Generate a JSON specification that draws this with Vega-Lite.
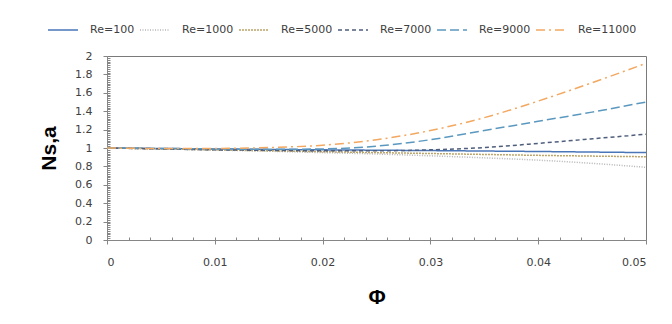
{
  "$schema": "https://vega.github.io/schema/vega-lite/v6.json",
  "width": 539,
  "height": 184,
  "autosize": "none",
  "padding": {"left": 107, "top": 56, "right": 26, "bottom": 84},
  "background": "white",
  "config": {
    "view": {"stroke": "#7a7a7a", "strokeWidth": 1},
    "font": "DejaVu Sans",
    "axis": {
      "labelFont": "DejaVu Sans",
      "labelFontSize": 11,
      "labelColor": "#404040",
      "domainColor": "#868686",
      "tickColor": "#868686",
      "grid": false,
      "titleFont": "Liberation Sans",
      "titleFontWeight": "bold",
      "titleFontSize": 21,
      "titleColor": "#000000"
    },
    "legend": {
      "labelFont": "DejaVu Sans",
      "labelFontSize": 11,
      "labelColor": "#404040"
    }
  },
  "data": {
    "values": [
      {"Re": "Re=100", "phi": 0, "Ns": 1},
      {"Re": "Re=100", "phi": 0.005, "Ns": 0.995},
      {"Re": "Re=100", "phi": 0.01, "Ns": 0.99},
      {"Re": "Re=100", "phi": 0.015, "Ns": 0.985},
      {"Re": "Re=100", "phi": 0.02, "Ns": 0.98},
      {"Re": "Re=100", "phi": 0.025, "Ns": 0.976},
      {"Re": "Re=100", "phi": 0.03, "Ns": 0.972},
      {"Re": "Re=100", "phi": 0.035, "Ns": 0.967},
      {"Re": "Re=100", "phi": 0.04, "Ns": 0.962},
      {"Re": "Re=100", "phi": 0.045, "Ns": 0.956},
      {"Re": "Re=100", "phi": 0.05, "Ns": 0.95},
      {"Re": "Re=1000", "phi": 0, "Ns": 1},
      {"Re": "Re=1000", "phi": 0.005, "Ns": 0.99},
      {"Re": "Re=1000", "phi": 0.01, "Ns": 0.978},
      {"Re": "Re=1000", "phi": 0.015, "Ns": 0.965},
      {"Re": "Re=1000", "phi": 0.02, "Ns": 0.95},
      {"Re": "Re=1000", "phi": 0.025, "Ns": 0.935},
      {"Re": "Re=1000", "phi": 0.03, "Ns": 0.915},
      {"Re": "Re=1000", "phi": 0.035, "Ns": 0.893},
      {"Re": "Re=1000", "phi": 0.04, "Ns": 0.868},
      {"Re": "Re=1000", "phi": 0.045, "Ns": 0.833},
      {"Re": "Re=1000", "phi": 0.05, "Ns": 0.79},
      {"Re": "Re=5000", "phi": 0, "Ns": 1},
      {"Re": "Re=5000", "phi": 0.005, "Ns": 0.99},
      {"Re": "Re=5000", "phi": 0.01, "Ns": 0.98},
      {"Re": "Re=5000", "phi": 0.015, "Ns": 0.97},
      {"Re": "Re=5000", "phi": 0.02, "Ns": 0.96},
      {"Re": "Re=5000", "phi": 0.025, "Ns": 0.95},
      {"Re": "Re=5000", "phi": 0.03, "Ns": 0.94},
      {"Re": "Re=5000", "phi": 0.035, "Ns": 0.93},
      {"Re": "Re=5000", "phi": 0.04, "Ns": 0.92},
      {"Re": "Re=5000", "phi": 0.045, "Ns": 0.912},
      {"Re": "Re=5000", "phi": 0.05, "Ns": 0.905},
      {"Re": "Re=7000", "phi": 0, "Ns": 1},
      {"Re": "Re=7000", "phi": 0.005, "Ns": 0.99},
      {"Re": "Re=7000", "phi": 0.01, "Ns": 0.98},
      {"Re": "Re=7000", "phi": 0.015, "Ns": 0.975},
      {"Re": "Re=7000", "phi": 0.02, "Ns": 0.97},
      {"Re": "Re=7000", "phi": 0.025, "Ns": 0.97},
      {"Re": "Re=7000", "phi": 0.03, "Ns": 0.98},
      {"Re": "Re=7000", "phi": 0.035, "Ns": 1.005},
      {"Re": "Re=7000", "phi": 0.04, "Ns": 1.05},
      {"Re": "Re=7000", "phi": 0.045, "Ns": 1.1},
      {"Re": "Re=7000", "phi": 0.05, "Ns": 1.15},
      {"Re": "Re=9000", "phi": 0, "Ns": 1},
      {"Re": "Re=9000", "phi": 0.005, "Ns": 0.995},
      {"Re": "Re=9000", "phi": 0.01, "Ns": 0.99},
      {"Re": "Re=9000", "phi": 0.015, "Ns": 0.985},
      {"Re": "Re=9000", "phi": 0.02, "Ns": 0.99},
      {"Re": "Re=9000", "phi": 0.025, "Ns": 1.02},
      {"Re": "Re=9000", "phi": 0.03, "Ns": 1.09},
      {"Re": "Re=9000", "phi": 0.035, "Ns": 1.19},
      {"Re": "Re=9000", "phi": 0.04, "Ns": 1.29},
      {"Re": "Re=9000", "phi": 0.045, "Ns": 1.39},
      {"Re": "Re=9000", "phi": 0.05, "Ns": 1.5},
      {"Re": "Re=11000", "phi": 0, "Ns": 1},
      {"Re": "Re=11000", "phi": 0.005, "Ns": 0.995},
      {"Re": "Re=11000", "phi": 0.01, "Ns": 0.995},
      {"Re": "Re=11000", "phi": 0.015, "Ns": 1.005},
      {"Re": "Re=11000", "phi": 0.02, "Ns": 1.03},
      {"Re": "Re=11000", "phi": 0.025, "Ns": 1.09},
      {"Re": "Re=11000", "phi": 0.03, "Ns": 1.19},
      {"Re": "Re=11000", "phi": 0.035, "Ns": 1.33},
      {"Re": "Re=11000", "phi": 0.04, "Ns": 1.51},
      {"Re": "Re=11000", "phi": 0.045, "Ns": 1.71},
      {"Re": "Re=11000", "phi": 0.05, "Ns": 1.92}
    ]
  },
  "layer": [
    {
      "mark": {"type": "point", "opacity": 0},
      "encoding": {
        "x": {
          "field": "phi", "type": "quantitative",
          "scale": {"domain": [0, 0.05], "nice": false, "zero": false},
          "axis": {
            "orient": "bottom", "title": null, "labels": false, "domain": false,
            "tickSize": -3,
            "values": [0.002, 0.004, 0.006, 0.008, 0.01, 0.012, 0.014, 0.016, 0.018, 0.02, 0.022, 0.024, 0.026, 0.028, 0.03, 0.032, 0.034, 0.036, 0.038, 0.04, 0.042, 0.044, 0.046, 0.048]
          }
        },
        "y": {
          "field": "Ns", "type": "quantitative",
          "scale": {"domain": [0, 2], "nice": false, "zero": false},
          "axis": {
            "orient": "left", "title": null, "labels": false, "domain": false,
            "tickSize": -3,
            "values": [0.02, 0.04, 0.06, 0.08, 0.1, 0.12, 0.14, 0.16, 0.18, 0.2, 0.22, 0.24, 0.26, 0.28, 0.3, 0.32, 0.34, 0.36, 0.38, 0.4, 0.42, 0.44, 0.46, 0.48, 0.5, 0.52, 0.54, 0.56, 0.58, 0.6, 0.62, 0.64, 0.66, 0.68, 0.7, 0.72, 0.74, 0.76, 0.78, 0.8, 0.82, 0.84, 0.86, 0.88, 0.9, 0.92, 0.94, 0.96, 0.98, 1.0, 1.02, 1.04, 1.06, 1.08, 1.1, 1.12, 1.14, 1.16, 1.18, 1.2, 1.22, 1.24, 1.26, 1.28, 1.3, 1.32, 1.34, 1.36, 1.38, 1.4, 1.42, 1.44, 1.46, 1.48, 1.5, 1.52, 1.54, 1.56, 1.58, 1.6, 1.62, 1.64, 1.66, 1.68, 1.7, 1.72, 1.74, 1.76, 1.78, 1.8, 1.82, 1.84, 1.86, 1.88, 1.9, 1.92, 1.94, 1.96, 1.98]
          }
        }
      }
    },
    {
      "mark": {"type": "line", "strokeWidth": 1.5, "interpolate": "monotone"},
      "encoding": {
        "x": {
          "field": "phi", "type": "quantitative",
          "axis": {
            "orient": "bottom", "title": "Φ",
            "values": [0, 0.01, 0.02, 0.03, 0.04, 0.05],
            "format": "~g", "tickSize": 4, "labelPadding": 12,
            "titlePadding": 19
          }
        },
        "y": {
          "field": "Ns", "type": "quantitative",
          "axis": {
            "orient": "left", "title": "Ns,a",
            "values": [0, 0.2, 0.4, 0.6, 0.8, 1, 1.2, 1.4, 1.6, 1.8, 2],
            "format": "~g", "tickSize": 4, "labelPadding": 11,
            "titlePadding": 15
          }
        },
        "color": {
          "field": "Re", "type": "nominal",
          "scale": {
            "domain": ["Re=100", "Re=1000", "Re=5000", "Re=7000", "Re=9000", "Re=11000"],
            "range": ["#4a76b8", "#b4b4b4", "#bba46a", "#4f5e7c", "#5b98bf", "#f2a860"]
          },
          "legend": {
            "title": null, "orient": "none", "direction": "horizontal", "columns": 6,
            "legendX": -60, "legendY": -42,
            "symbolType": "stroke", "symbolSize": 900, "symbolStrokeWidth": 1.5,
            "labelOffset": 11, "columnPadding": 2
          }
        },
        "strokeDash": {
          "field": "Re", "type": "nominal",
          "scale": {
            "domain": ["Re=100", "Re=1000", "Re=5000", "Re=7000", "Re=9000", "Re=11000"],
            "range": [[1, 0], [1, 1.5], [2, 1], [4, 3], [9, 4], [9, 4, 2, 4]]
          },
          "legend": {
            "title": null, "orient": "none", "direction": "horizontal", "columns": 6,
            "legendX": -60, "legendY": -42,
            "symbolType": "stroke", "symbolSize": 900, "symbolStrokeWidth": 1.5,
            "labelOffset": 11, "columnPadding": 2
          }
        }
      }
    }
  ],
  "resolve": {"axis": {"x": "independent", "y": "independent"}}
}
